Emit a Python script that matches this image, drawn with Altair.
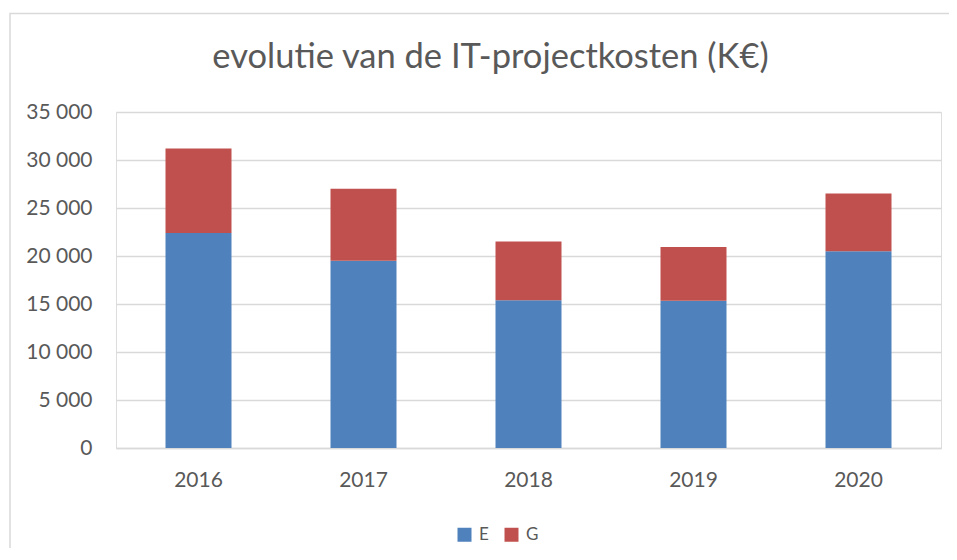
import altair as alt
import pandas as pd

years = ["2016", "2017", "2018", "2019", "2020"]
e_values = [22400, 19500, 15400, 15350, 20500]
g_values = [8800, 7500, 6100, 5600, 6000]
series = ["E", "G"]
colors = ["#4F81BD", "#C0504D"]
y_ticks = [0, 5000, 10000, 15000, 20000, 25000, 30000, 35000]

rows = []
for i, y in enumerate(years):
    rows.append({"jaar": y, "reeks": "E", "waarde": e_values[i], "volg": 0})
    rows.append({"jaar": y, "reeks": "G", "waarde": g_values[i], "volg": 1})
df = pd.DataFrame(rows)

FONT = "Lato"
TXT = "#595959"
GRID = "#d9d9d9"

bars = alt.Chart(df).mark_bar().encode(
    x=alt.X("jaar:N", title=None, sort=years,
            scale=alt.Scale(paddingInner=0.6, paddingOuter=0.3),
            axis=alt.Axis(labelAngle=0, ticks=False, domainColor=GRID, domainWidth=1.5,
                          labelFontSize=21, labelColor=TXT, labelFont=FONT, labelPadding=21)),
    y=alt.Y("waarde:Q", title=None, stack="zero",
            scale=alt.Scale(domain=[0, 35000], nice=False),
            axis=alt.Axis(values=y_ticks, format=",d", domain=False, ticks=False,
                          gridColor=GRID, gridWidth=1.5, labelFontSize=21, labelColor=TXT,
                          labelFont=FONT, labelPadding=24)),
    color=alt.Color("reeks:N", scale=alt.Scale(domain=series, range=colors),
                    legend=alt.Legend(title=None, orient="none", direction="horizontal",
                                      legendX=340, legendY=414, symbolType="square",
                                      symbolSize=196, symbolStrokeWidth=0, labelFontSize=17,
                                      labelFont=FONT, labelColor=TXT, labelOffset=6,
                                      columnPadding=14, padding=0)),
    order=alt.Order("volg:Q", sort="ascending"),
)

border = alt.Chart(alt.Data(values=[{"a": 1}])).mark_rect(
    fill="transparent", stroke=GRID, strokeWidth=1.5
).encode(
    x=alt.value(-106), x2=alt.value(2000), y=alt.value(-98.5), y2=alt.value(2000)
)

chart = alt.layer(border, bars).properties(
    width=825,
    height=336,
    title=alt.TitleParams("evolutie van de IT-projectkosten (K€)", fontSize=34.5, font=FONT,
                          fontWeight="normal", color=TXT, anchor="middle", dx=-38,
                          baseline="alphabetic", offset=-90),
    autosize=alt.AutoSizeParams(type="none"),
    padding={"left": 108, "top": 104, "right": 8, "bottom": 100},
).configure_view(stroke=None).configure(
    locale=alt.Locale(number=alt.NumberLocale(decimal=",", thousands=" ", grouping=[3],
                                              currency=["", " €"]))
)

chart.save("out.html", embed_options={"renderer": "svg", "actions": False})
